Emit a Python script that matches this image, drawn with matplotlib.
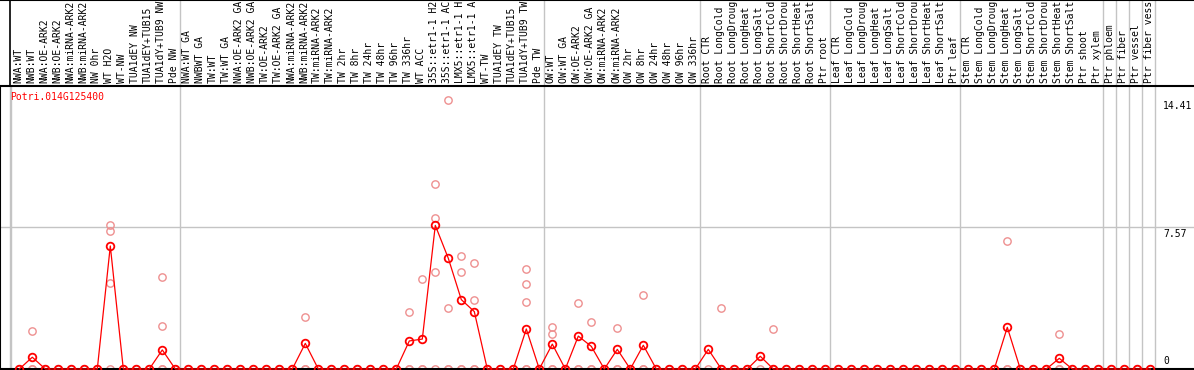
import matplotlib
matplotlib.use("Agg")
import matplotlib.pyplot as plt

gene = "Potri.014G125400"

categories = [
    "NWA:WT", "NWB:WT", "NWA:OE-ARK2", "NWB:OE-ARK2", "NWA:miRNA-ARK2", "NWB:miRNA-ARK2",
    "NW 0hr", "WT H2O", "WT-NW", "TUA1dEY NW", "TUA1dEY+TUB15", "TUA1dY+TUB9 NW", "Pde NW",
    "NWA:WT GA", "NWBWT GA", "TW:WT", "TW:WT GA", "NWA:OE-ARK2 GA", "NWB:OE-ARK2 GA",
    "TW:OE-ARK2", "TW:OE-ARK2 GA", "NWA:miRNA-ARK2", "NWB:miRNA-ARK2", "TW:miRNA-ARK2",
    "TW:miRNA-ARK2", "TW 2hr", "TW 8hr", "TW 24hr", "TW 48hr", "TW 96hr", "TW 336hr",
    "WT ACC", "35S::etr1-1 H2", "35S::etr1-1 AC", "LMX5::etr1-1 H", "LMX5::etr1-1 A",
    "WT-TW", "TUA1dEY TW", "TUA1dEY+TUB15", "TUA1dY+TUB9 TW", "Pde TW",
    "OW:WT", "OW:WT GA", "OW:OE-ARK2", "OW:OE-ARK2 GA", "OW:miRNA-ARK2", "OW:miRNA-ARK2",
    "OW 2hr", "OW 8hr", "OW 24hr", "OW 48hr", "OW 96hr", "OW 336hr",
    "Root CTR", "Root LongCold", "Root LongDroug", "Root LongHeat", "Root LongSalt",
    "Root ShortCold", "Root ShortDrou", "Root ShortHeat", "Root ShortSalt", "Ptr root",
    "Leaf CTR", "Leaf LongCold", "Leaf LongDroug", "Leaf LongHeat", "Leaf LongSalt",
    "Leaf ShortCold", "Leaf ShortDrou", "Leaf ShortHeat", "Leaf ShortSalt", "Ptr leaf",
    "Stem CTR", "Stem LongCold", "Stem LongDroug", "Stem LongHeat", "Stem LongSalt",
    "Stem ShortCold", "Stem ShortDrou", "Stem ShortHeat", "Stem ShortSalt", "Ptr shoot",
    "Ptr xylem", "Ptr phloem", "Ptr fiber", "Ptr vessel", "Ptr fiber vess",
]

# mean expression per category
means = [
    0, 0.63, 0, 0, 0, 0, 0, 6.58, 0, 0, 0, 1.02, 0,
    0, 0, 0, 0, 0, 0, 0, 0, 0, 1.37, 0, 0, 0, 0, 0, 0, 0, 1.50,
    1.60, 7.68, 5.92, 3.71, 3.07, 0, 0, 0, 2.14, 0,
    1.33, 0, 1.76, 1.21, 0, 1.05, 0, 1.27, 0, 0, 0, 0,
    1.05, 0, 0, 0, 0.68, 0, 0, 0, 0, 0,
    0, 0, 0, 0, 0, 0, 0, 0, 0, 0,
    0, 0, 0, 2.23, 0, 0, 0, 0.57, 0, 0,
    0, 0, 0, 0, 0,
]

# replicate values (category index, value)
rep_index = [1, 1, 7, 7, 7, 11, 11, 11, 22, 22, 30, 30, 31, 31,
             32, 32, 32, 33, 33, 33, 34, 34, 34, 35, 35, 35,
             39, 39, 39, 39, 41, 41, 41, 43, 43, 44, 44, 46, 46,
             48, 48, 54, 54, 58, 58, 76, 76, 80, 80]
rep_value = [2.03, 0, 7.68, 7.36, 4.58, 4.90, 2.28, 0, 2.76, 0, 3.03, 0, 4.80, 0,
             9.88, 8.06, 5.17, 14.41, 3.25, 0, 6.03, 5.17, 0, 5.67, 3.67, 0,
             5.33, 4.53, 3.57, 0, 2.23, 1.86, 0, 3.53, 0, 2.51, 0, 2.18, 0,
             3.94, 0, 3.25, 0, 2.12, 0, 6.83, 0, 1.86, 0]

group_starts = [0, 13, 41, 53, 63, 73, 84, 85, 86, 87, 88]
ytick_values = [14.41, 7.57, 0]
ytick_labels = ["14.41", "7.57", "0"]

W, H = 1194, 370
fig = plt.figure(figsize=(W / 100, H / 100), dpi=100)
mono = "DejaVu Sans Mono"
fs = 7

step = 13.0
x0 = 19.3
xl = (0 - x0) / step
xr = (W - x0) / step

hdr_px = 86
bot_px = 369
scale = 18.7  # px per unit
ytop = (bot_px - hdr_px) / scale

ax = fig.add_axes([0, (H - bot_px) / H, 1, (bot_px - hdr_px) / H])
ax.set_xlim(xl, xr)
ax.set_ylim(0, ytop)
for s in ["top", "right"]:
    ax.spines[s].set_visible(False)
ax.spines["left"].set_color("black")
ax.spines["bottom"].set_color("black")
ax.spines["left"].set_linewidth(1.5)
ax.spines["bottom"].set_linewidth(1.5)
ax.set_xticks([])
ax.set_yticks([])

grid_c = "#c4c4c4"
ax.axhline(7.57, color=grid_c, lw=1.0, zorder=0)
for g in group_starts:
    ax.axvline(g - 0.64, color=grid_c, lw=1.0, zorder=0)
ax.axvline(-0.715, color=grid_c, lw=1.0, zorder=0)

xs = list(range(len(categories)))
# pale replicates at zero for every category
ax.plot(xs, [0] * len(xs), linestyle="none", marker="o", ms=5.3, mfc="none",
        mec="#ee9090", mew=1.0, clip_on=False, zorder=2)
ax.plot(rep_index, rep_value, linestyle="none", marker="o", ms=5.3, mfc="none",
        mec="#ee9090", mew=1.0, clip_on=False, zorder=2)
ax.plot(xs, means, color="red", lw=0.9, marker="o", ms=5.5, mfc="none",
        mec="red", mew=1.3, clip_on=False, zorder=3)

ax.text((10 - x0) / step, ytop - (97 - hdr_px) / scale, gene,
        color="red", family=mono, fontsize=fs, ha="left", va="center")

xlab = (1163 - x0) / step
for v, t in zip(ytick_values, ytick_labels):
    if v == 0:
        ax.text(xlab, v + 3 / scale, t, family=mono, fontsize=fs, color="black",
                ha="left", va="bottom")
    else:
        ax.text(xlab, v - 1.5 / scale, t, family=mono, fontsize=fs, color="black",
                ha="left", va="top")

# header
hx = fig.add_axes([0, (H - hdr_px) / H, 1, hdr_px / H])
hx.set_xlim(xl, xr)
hx.set_ylim(0, hdr_px)
hx.set_xticks([])
hx.set_yticks([])
for s in ["left", "right"]:
    hx.spines[s].set_visible(False)
hx.spines["top"].set_linewidth(1.5)
hx.spines["bottom"].set_linewidth(1.5)
hx.axvline(-0.715, color="black", lw=1.2)
for g in group_starts[1:]:
    hx.axvline(g - 0.64, color=grid_c, lw=1.0, zorder=0)
for i, lab in enumerate(categories):
    hx.text(i - 0.1, 3, lab, rotation=90, family=mono, fontsize=fs,
            ha="center", va="bottom", color="black", clip_on=True)

fig.savefig("out.png", dpi=100)
